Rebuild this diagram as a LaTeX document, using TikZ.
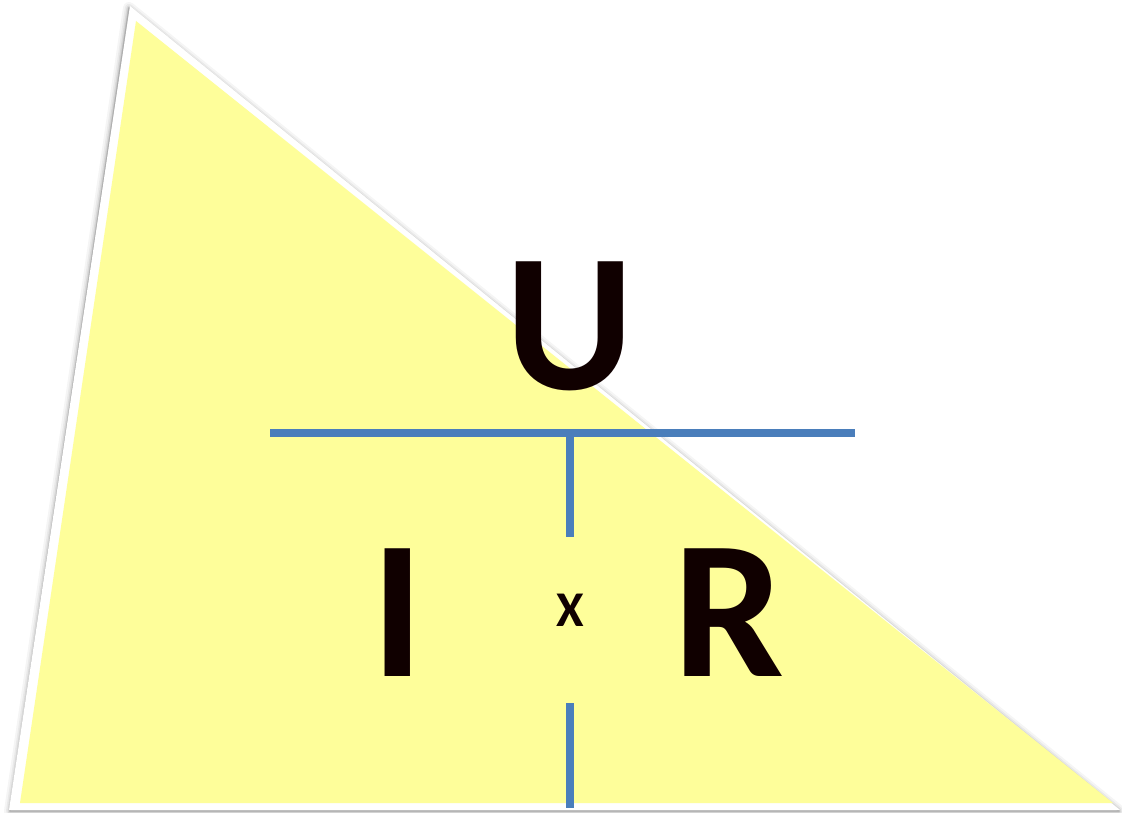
\documentclass[tikz,border=0pt]{standalone}
\usepackage{fontspec}
\setmainfont{Carlito}
\begin{document}
\begin{tikzpicture}[x=1pt,y=-1pt,
  bigletter/.style={font=\bfseries\fontsize{197}{197}\selectfont, text=letterc, inner sep=0pt, anchor=base},
  smallletter/.style={font=\bfseries\fontsize{50}{50}\selectfont, text=letterc, inner sep=0pt, anchor=base},
  bar/.style={draw=barblue, line width=7.5pt}]
\definecolor{tri}{HTML}{FEFE9A}
\definecolor{letterc}{HTML}{100000}
\definecolor{barblue}{HTML}{4A7EBB}
\useasboundingbox (0,0) rectangle (1122,813);
% shadow
\foreach \w/\o in {12/0.04,8/0.05,5/0.07,2.5/0.09,1.2/0.12}{
  \draw[line width=\w pt, black, opacity=\o, line join=round] (129,8) -- (10,811) -- (1119,811) -- cycle;
}
% white frame and yellow fill
\fill[white] (130,6) -- (9,810) -- (1120,810) -- cycle;
\fill[tri] (136,21) -- (20,803) -- (1113,803) -- cycle;
% letters
\node[bigletter] (U) at (569.5,389) {U};
\node[bigletter] (I) at (397.5,676) {I};
\node[bigletter] (R) at (729,676) {R};
\node[smallletter] (X) at (570,626) {X};
% bars
\coordinate (hl) at (270,433);
\coordinate (hr) at (855,433);
\coordinate (vt) at (570,433);
\coordinate (vm) at (570,537);
\coordinate (vb) at (570,703);
\coordinate (ve) at (570,808);
\draw[bar] (hl) -- (hr);
\draw[bar] (vt) -- (vm);
\draw[bar] (vb) -- (ve);
\end{tikzpicture}
\end{document}
